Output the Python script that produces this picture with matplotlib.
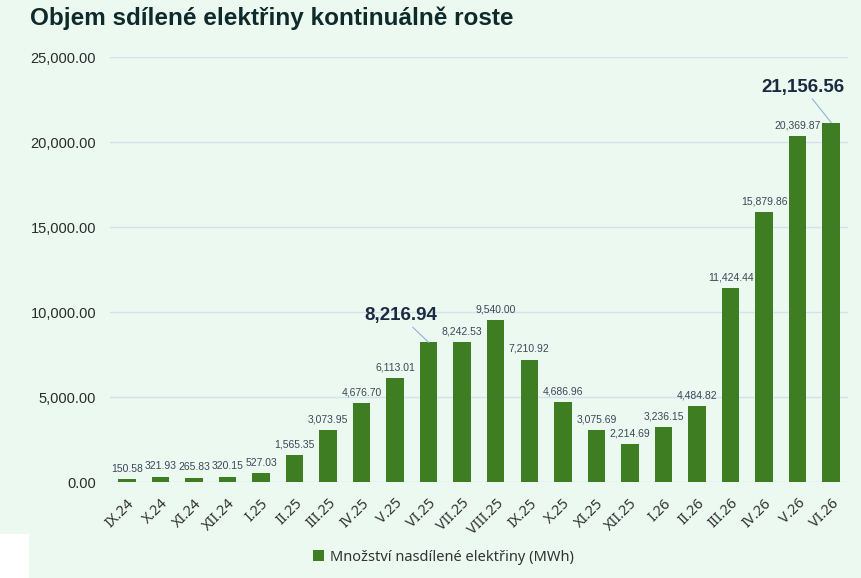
import matplotlib.pyplot as plt
import numpy as np
from matplotlib.patches import Rectangle
from matplotlib.ticker import FuncFormatter

# Data
months = ["IX.24", "X.24", "XI.24", "XII.24", "I.25", "II.25", "III.25", "IV.25",
          "V.25", "VI.25", "VII.25", "VIII.25", "IX.25", "X.25", "XI.25", "XII.25",
          "I.26", "II.26", "III.26", "IV.26", "V.26", "VI.26"]
volume_mwh = [150.58, 321.93, 265.83, 320.15, 527.03, 1565.35, 3073.95, 4676.70,
              6113.01, 8216.94, 8242.53, 9540.00, 7210.92, 4686.96, 3075.69, 2214.69,
              3236.15, 4484.82, 11424.44, 15879.86, 20369.87, 21156.56]
# highlighted months and their label offsets (points)
highlight = {"VI.25": (-20, 13), "VI.26": (-20, 19)}

bg = "#EBF9F1"
bar_color = "#3F7D22"
grid_color = "#D3E2EC"

fig = plt.figure(figsize=(8.61, 5.78), dpi=100, facecolor=bg)
ax = fig.add_axes([0.1278, 0.166, 0.857, 0.735])
ax.set_facecolor(bg)

x = np.arange(len(months))
ax.bar(x, volume_mwh, width=0.52, color=bar_color, zorder=3,
       label="Množství nasdílené elektřiny (MWh)")

ax.set_ylim(0, 25000)
ax.set_xlim(-0.5, len(months) - 0.5)
ax.set_yticks(np.arange(0, 25001, 5000))
ax.yaxis.set_major_formatter(FuncFormatter(lambda v, p: "{:,.2f}".format(v)))
ax.grid(axis="y", color=grid_color, linewidth=1.0, zorder=0)
for s in ax.spines.values():
    s.set_visible(False)
ax.tick_params(axis="y", length=0, pad=10, labelsize=10.5, labelcolor="#2B2B2B")
ax.tick_params(axis="x", length=0, pad=10)
for lab in ax.get_yticklabels():
    lab.set_family("Liberation Sans")

ax.set_xticks(x)
ax.set_xticklabels(months, rotation=45, ha="right", rotation_mode="anchor",
                   fontsize=10.5, color="#333333", family="Noto Sans")

# Value labels
for xi, m, v in zip(x, months, volume_mwh):
    txt = "{:,.2f}".format(v)
    if m in highlight:
        ax.annotate(txt, xy=(xi, v), xytext=highlight[m], textcoords="offset points",
                    ha="center", va="bottom", fontsize=13.5, fontweight="bold",
                    color="#1B2A41", family="Liberation Sans",
                    arrowprops=dict(arrowstyle="-", color="#8FB3D9", lw=0.8,
                                    shrinkA=0, shrinkB=0))
    else:
        ax.annotate(txt, xy=(xi, v), xytext=(0, 4), textcoords="offset points",
                    ha="center", va="bottom", fontsize=7.5, color="#3A4756",
                    family="Liberation Sans")

fig.text(0.035, 0.968, "Objem sdílené elektřiny kontinuálně roste", fontsize=17.5,
         fontweight="bold", color="#0F2A2A", family="Liberation Sans", va="center")

leg = fig.legend(loc="center", bbox_to_anchor=(0.515, 0.036), frameon=False,
                 handlelength=0.8, handleheight=0.8, handletextpad=0.4,
                 prop={"family": "Noto Sans", "size": 10.5})
for t in leg.get_texts():
    t.set_color("#333333")

fig.patches.append(Rectangle((0, 0), 29 / 861, 44 / 578, transform=fig.transFigure,
                             facecolor="white", edgecolor="none", zorder=5))

fig.savefig("out.png", dpi=100, facecolor=bg)
